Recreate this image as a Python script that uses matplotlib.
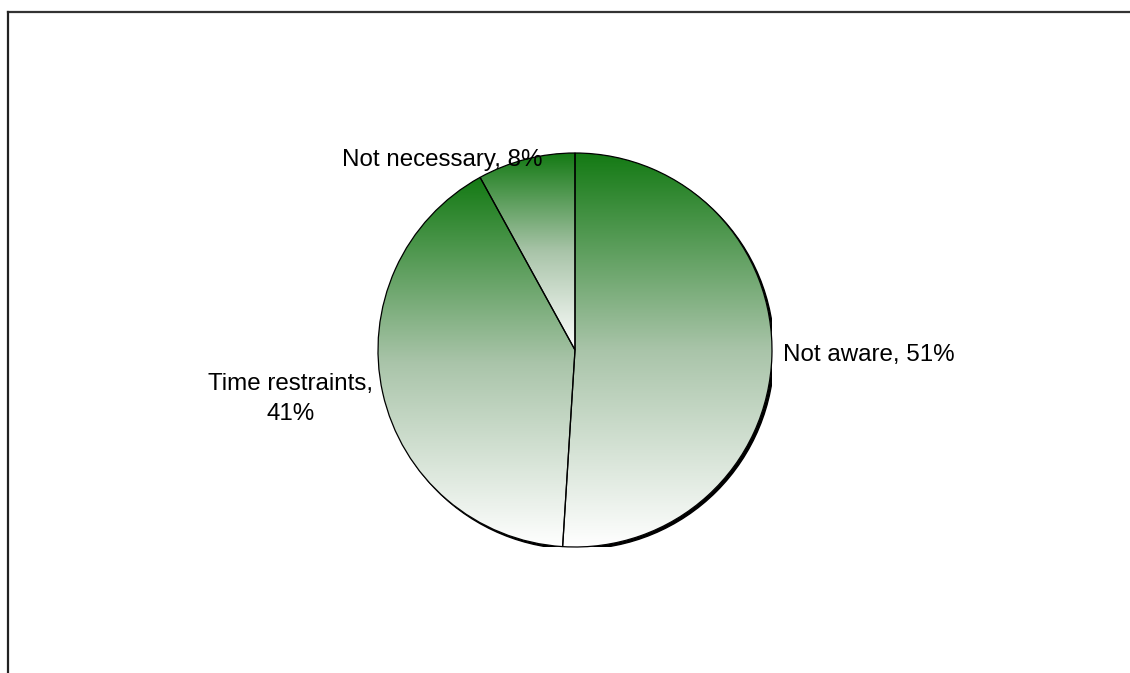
import numpy as np
import matplotlib.pyplot as plt
from matplotlib.colors import LinearSegmentedColormap
from matplotlib.lines import Line2D
from matplotlib.patches import Circle, Wedge

# data
labels = ['Not aware', 'Time restraints', 'Not necessary']
values = [51, 41, 8]
label_text = ['Not aware, 51%', 'Time restraints,\n41%', 'Not necessary, 8%']

W, H = 1130, 673
fig = plt.figure(figsize=(W / 100, H / 100), dpi=100)
plt.rcParams['font.family'] = ['Liberation Sans', 'DejaVu Sans']

# pie centre / radius in pixels (from top-left)
cx, cy, r = 575, 350, 197
ax = fig.add_axes([(cx - r) / W, (H - cy - r) / H, 2 * r / W, 2 * r / H])

# shadow behind the pie
ax.add_patch(Circle((0.011, -0.011), 1.0, color='black', zorder=0))

wedges, _ = ax.pie(values, startangle=90, counterclock=False, radius=1.0,
                   wedgeprops=dict(facecolor='none', edgecolor='black', lw=0.9),
                   frame=False)

# vertical gradient per slice: green at the top, white at the bottom
cmap = LinearSegmentedColormap.from_list('gw', ['#ffffff', '#a9c4a9', '#147a14'])
grad = np.linspace(0, 1, 256).reshape(-1, 1)
for w in wedges:
    ext = w.get_path().get_extents(w.get_patch_transform())
    # white fill behind gradient so shadow doesn't show through
    ax.add_patch(Wedge(w.center, w.r, w.theta1, w.theta2,
                       facecolor='white', edgecolor='none', zorder=0.5))
    im = ax.imshow(grad, cmap=cmap, origin='lower', aspect='auto',
                   extent=[ext.x0, ext.x1, ext.y0, ext.y1], zorder=1,
                   interpolation='bilinear')
    im.set_clip_path(w)
    w.set_zorder(2)

ax.set_xlim(-1, 1)
ax.set_ylim(-1, 1)
ax.set_aspect('auto')
ax.axis('off')

fs = 17.4
fig.text(783 / W, 1 - 355 / H, label_text[0], fontsize=fs, ha='left', va='center')
fig.text(291 / W, 1 - 399 / H, label_text[1], fontsize=fs, ha='center', va='center',
         multialignment='center', linespacing=1.45)
fig.text(542 / W, 1 - 160 / H, label_text[2], fontsize=fs, ha='right', va='center')

# chart frame (top and left edges visible)
fig.add_artist(Line2D([8 / W, 1.0], [1 - 12 / H, 1 - 12 / H], color='#333333', lw=1.6))
fig.add_artist(Line2D([8 / W, 8 / W], [1 - 12 / H, 0], color='#222222', lw=1.6))

fig.savefig('out.png', dpi=100)
